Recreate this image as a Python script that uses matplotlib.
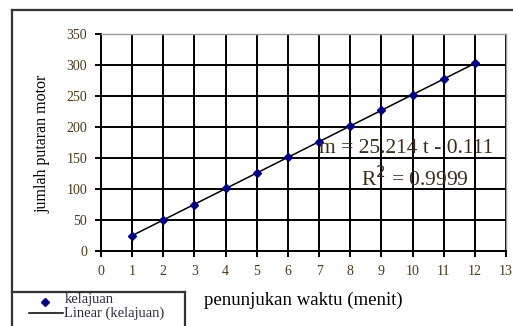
import matplotlib
matplotlib.use("Agg")
import matplotlib.pyplot as plt
from matplotlib.lines import Line2D
import numpy as np

# time reading (minutes) vs number of motor revolutions
waktu = [1, 2, 3, 4, 5, 6, 7, 8, 9, 10, 11, 12]
putaran = [25, 50, 75, 101, 126, 151, 176, 202, 227, 252, 277, 303]
x_ticks = list(range(0, 14))
y_ticks = [0, 50, 100, 150, 200, 250, 300, 350]

SERIF = "Liberation Serif"
TICK_COLOR = "#4a3818"
W, H = 513, 326

fig = plt.figure(figsize=(W / 100, H / 100), dpi=100)
ax = fig.add_axes([101 / W, 1 - 251 / H, 405 / W, 217 / H])

# linear trendline from least squares fit
coef = np.polyfit(waktu, putaran, 1)
xs = np.array([waktu[0], waktu[-1]])
ax.plot(xs, np.polyval(coef, xs), color="black", lw=1.1, zorder=3)
ax.plot(waktu, putaran, linestyle="none", marker="D", ms=4.5,
        color="#000080", zorder=4)

ax.set_xlim(0, 13)
ax.set_ylim(0, 350)
ax.set_xticks(x_ticks)
ax.set_yticks(y_ticks)
ax.grid(True, color="black", lw=1.4)
ax.set_axisbelow(True)
for side in ["left", "bottom"]:
    ax.spines[side].set_linewidth(1.4)
for side in ["top", "right"]:
    ax.spines[side].set_color("#9a9a9a")
    ax.spines[side].set_linewidth(1.0)
ax.tick_params(direction="out", length=4, width=1.4, pad=6,
               labelsize=10, labelcolor=TICK_COLOR)
for lab in ax.get_xticklabels() + ax.get_yticklabels():
    lab.set_family(SERIF)

ax.text(7.0, 166, "m = 25.214 t - 0.111", fontsize=15.5, family=SERIF,
        color="#3a2e1a", va="center", ha="left", zorder=5)
ax.text(8.35, 116, "R$^2$ = 0.9999", fontsize=15.5, family=SERIF,
        color="#3a2e1a", va="center", ha="left", zorder=5)

fig.text(42 / W, 1 - 144 / H, "jumlah putaran motor", rotation=90,
         fontsize=11.5, family=SERIF, ha="center", va="center")
fig.text(303 / W, 1 - 300 / H, "penunjukan waktu (menit)",
         fontsize=13.5, family=SERIF, ha="center", va="center")

# outer chart frame
frame = dict(color="#333333", lw=1.6, transform=fig.transFigure)
fig.add_artist(Line2D([11.5 / W, 11.5 / W], [0, 1 - 10 / H], **frame))
fig.add_artist(Line2D([11.5 / W, 1.0], [1 - 10 / H, 1 - 10 / H], **frame))

# legend box
fig.add_artist(Line2D([11.5 / W, 185 / W], [1 - 292 / H, 1 - 292 / H], **frame))
fig.add_artist(Line2D([185 / W, 185 / W], [0, 1 - 292 / H], **frame))
fig.add_artist(Line2D([45 / W], [1 - 302 / H], marker="D", ms=4.5,
                      color="#000080", linestyle="none",
                      transform=fig.transFigure))
fig.add_artist(Line2D([29 / W, 63 / W], [1 - 313 / H, 1 - 313 / H],
                      color="black", lw=1.1, transform=fig.transFigure))
fig.text(65 / W, 1 - 300 / H, "kelajuan", fontsize=10.5, family=SERIF,
         va="center", ha="left", color="#2e2a40")
fig.text(64 / W, 1 - 313.5 / H, "Linear (kelajuan)", fontsize=10.5,
         family=SERIF, va="center", ha="left", color="#2e2a40")

fig.savefig("out.png", dpi=100)
